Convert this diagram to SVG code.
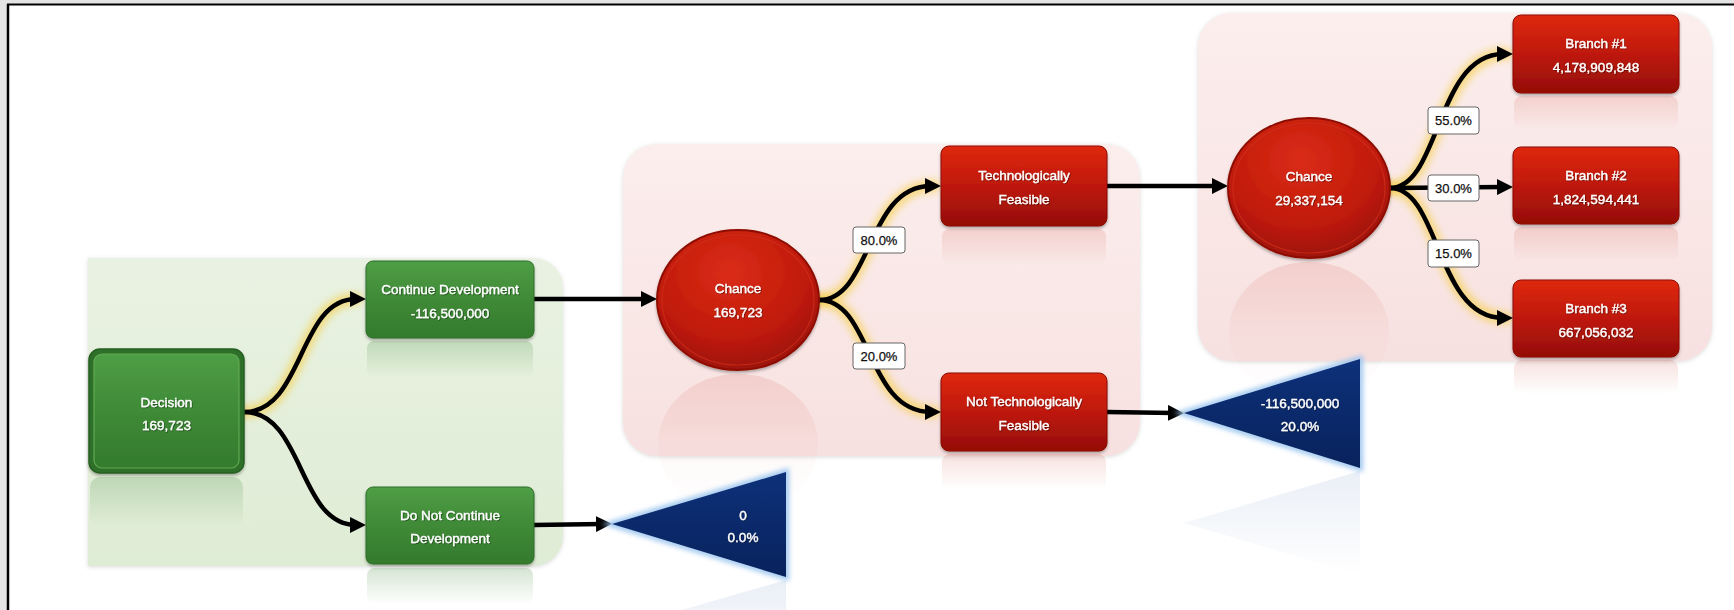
<svg xmlns="http://www.w3.org/2000/svg" width="1734" height="610" viewBox="0 0 1734 610">
<defs>
<style>
.nt{font-family:"Liberation Sans",Arial,sans-serif;font-size:13.5px;fill:#fff;stroke:#fff;stroke-width:0.35px;text-anchor:middle;filter:url(#ts)}
.lt{font-family:"Liberation Sans",Arial,sans-serif;font-size:13px;fill:#111;stroke:#111;stroke-width:0.25px;text-anchor:middle}
.lb{fill:#fff;stroke:#666;stroke-width:1}
.glow{fill:none;stroke:#f5cf45;stroke-width:13;stroke-opacity:0.6;filter:url(#gy);stroke-linecap:round}
.ln{fill:none;stroke:#000;stroke-width:4.5;marker-end:url(#arr)}
.gbox{fill:url(#gGreen);stroke:#2f6d2a;stroke-width:1}
.rbox{fill:url(#gRed);stroke:#8a0c05;stroke-width:1}
.ell{fill:url(#gEll);stroke:#8e0e06;stroke-width:2}
.tri{fill:url(#gNavy)}
.trig{fill:none;stroke:#9cc6ef;stroke-width:6;filter:url(#gb)}
</style>
<linearGradient id="gGreenPanel" x1="0" y1="0" x2="0" y2="1"><stop offset="0" stop-color="#e9f2e2"/><stop offset="1" stop-color="#dfecd5"/></linearGradient>
<linearGradient id="gPinkPanel" x1="0" y1="0" x2="0" y2="1"><stop offset="0" stop-color="#fbeeed"/><stop offset="1" stop-color="#f7e1e0"/></linearGradient>
<linearGradient id="gGreen" x1="0" y1="0" x2="0" y2="1"><stop offset="0" stop-color="#4f9e46"/><stop offset="0.5" stop-color="#3f8a37"/><stop offset="1" stop-color="#347a2d"/></linearGradient>
<linearGradient id="gRed" x1="0" y1="0" x2="0" y2="1"><stop offset="0" stop-color="#de2811"/><stop offset="0.45" stop-color="#c21a0a"/><stop offset="1" stop-color="#940d06"/></linearGradient>
<radialGradient id="gEll" cx="0.45" cy="0.3" r="0.8"><stop offset="0" stop-color="#db2c16"/><stop offset="0.6" stop-color="#bf1a0b"/><stop offset="1" stop-color="#8c0e06"/></radialGradient>
<linearGradient id="gNavy" x1="0" y1="0" x2="0" y2="1"><stop offset="0" stop-color="#0e317a"/><stop offset="1" stop-color="#08225c"/></linearGradient>
<linearGradient id="rG" x1="0" y1="0" x2="0" y2="1"><stop offset="0" stop-color="#3f8a37" stop-opacity="0.22"/><stop offset="1" stop-color="#3f8a37" stop-opacity="0"/></linearGradient>
<linearGradient id="rR" x1="0" y1="0" x2="0" y2="1"><stop offset="0" stop-color="#c8301e" stop-opacity="0.14"/><stop offset="1" stop-color="#c8301e" stop-opacity="0"/></linearGradient>
<linearGradient id="rE" x1="0" y1="0" x2="0" y2="1"><stop offset="0" stop-color="#c8301e" stop-opacity="0.12"/><stop offset="0.5" stop-color="#c8301e" stop-opacity="0.03"/><stop offset="1" stop-color="#c8301e" stop-opacity="0"/></linearGradient>
<linearGradient id="rB" x1="0" y1="0" x2="0" y2="1"><stop offset="0" stop-color="#6a8cc0" stop-opacity="0.14"/><stop offset="1" stop-color="#6a8cc0" stop-opacity="0"/></linearGradient>
<filter id="gy" x="-20%" y="-50%" width="140%" height="200%"><feGaussianBlur stdDeviation="3.5"/></filter>
<filter id="gb" x="-20%" y="-20%" width="140%" height="140%"><feGaussianBlur stdDeviation="2.5"/></filter>
<filter id="ts" x="-10%" y="-30%" width="120%" height="160%"><feDropShadow dx="0.8" dy="0.8" stdDeviation="0.6" flood-color="#000" flood-opacity="0.45"/></filter>
<filter id="ns" x="-10%" y="-10%" width="120%" height="130%"><feDropShadow dx="0" dy="2" stdDeviation="1.5" flood-color="#000" flood-opacity="0.3"/></filter>
<filter id="ps" x="-5%" y="-5%" width="110%" height="110%"><feDropShadow dx="0" dy="1" stdDeviation="2" flood-color="#999" flood-opacity="0.35"/></filter>
<marker id="arr" markerUnits="userSpaceOnUse" markerWidth="16" markerHeight="16" viewBox="0 0 16 16" refX="6" refY="8" orient="auto"><path d="M0,0 L16,8 L0,16 Z" fill="#000"/></marker>
</defs>

<rect x="0" y="0" width="1734" height="610" fill="#fff"/>
<rect x="0" y="0" width="1734" height="4" fill="#e4e4e4"/>
<rect x="0" y="0" width="7" height="610" fill="#e4e4e4"/>
<line x1="7" y1="4.5" x2="1734" y2="4.5" stroke="#000" stroke-width="2"/>
<line x1="8" y1="4" x2="8" y2="610" stroke="#000" stroke-width="2.5"/>

<g id="panels">
<path id="panel-decision" d="M88,258 H533 A30,30 0 0 1 563,288 V536 A30,30 0 0 1 533,566 H88 Z" fill="url(#gGreenPanel)" filter="url(#ps)"/>
<rect id="panel-chance1" x="623" y="144" width="517" height="312" rx="34" fill="url(#gPinkPanel)" filter="url(#ps)"/>
<rect id="panel-chance2" x="1198" y="13" width="514" height="348" rx="34" fill="url(#gPinkPanel)" filter="url(#ps)"/>
</g>

<g id="reflections">
<rect x="90" y="477" width="153" height="50" rx="10" fill="url(#rG)"/>
<rect x="367" y="341" width="166" height="36" rx="7" fill="url(#rG)"/>
<rect x="367" y="568" width="166" height="36" rx="7" fill="url(#rG)"/>
<rect x="942" y="229" width="164" height="36" rx="8" fill="url(#rR)"/>
<rect x="942" y="454" width="164" height="36" rx="8" fill="url(#rR)"/>
<rect x="1514" y="96" width="164" height="34" rx="8" fill="url(#rR)"/>
<rect x="1514" y="227" width="164" height="34" rx="8" fill="url(#rR)"/>
<rect x="1514" y="360" width="164" height="34" rx="8" fill="url(#rR)"/>
<ellipse cx="738" cy="444" rx="80" ry="70" fill="url(#rE)"/>
<ellipse cx="1309" cy="332" rx="80" ry="70" fill="url(#rE)"/>
<polygon points="612,630 786,580 786,682" fill="url(#rB)"/>
<polygon points="1184,523 1360,471 1360,575" fill="url(#rB)"/>
</g>

<g id="connectors">
<path class="glow" d="M244,412 C304,412 298,299 356,299"/>
<path class="glow" d="M534,299 L650,299"/>
<path class="glow" d="M819,300 C872,300 866,186 934,186"/>
<path class="glow" d="M819,300 C872,300 866,412 934,412"/>
<path class="glow" d="M1107,186 L1222,186"/>
<path class="glow" d="M1107,412 L1180,413"/>
<path class="glow" d="M1390,188 C1440,188 1436,54 1506,54"/>
<path class="glow" d="M1390,188 L1506,187"/>
<path class="glow" d="M1390,188 C1440,188 1436,318 1506,318"/>

<path id="c-dec-cont" class="ln" d="M244,412 C304,412 298,299 356,299"/>
<path id="c-dec-stop" class="ln" d="M244,412 C304,412 298,525 356,525"/>
<path id="c-cont-ch1" class="ln" d="M534,299 L647,299"/>
<path id="c-stop-t1" class="ln" d="M534,525 L602,524"/>
<path id="c-ch1-tech" class="ln" d="M819,300 C872,300 866,186 931,186"/>
<path id="c-ch1-not" class="ln" d="M819,300 C872,300 866,412 931,412"/>
<path id="c-tech-ch2" class="ln" d="M1107,186 L1218,186"/>
<path id="c-not-t2" class="ln" d="M1107,412 L1174,413"/>
<path id="c-ch2-b1" class="ln" d="M1390,188 C1440,188 1436,54 1503,54"/>
<path id="c-ch2-b2" class="ln" d="M1390,188 L1503,187"/>
<path id="c-ch2-b3" class="ln" d="M1390,188 C1440,188 1436,318 1503,318"/>

<g id="labels">
<rect class="lb" x="853" y="227" width="52" height="26" rx="3"/><text class="lt" x="879" y="245">80.0%</text>
<rect class="lb" x="853" y="343" width="52" height="26" rx="3"/><text class="lt" x="879" y="361">20.0%</text>
<rect class="lb" x="1428" y="107" width="51" height="27" rx="3"/><text class="lt" x="1453.5" y="125">55.0%</text>
<rect class="lb" x="1428" y="175" width="51" height="26" rx="3"/><text class="lt" x="1453.5" y="193">30.0%</text>
<rect class="lb" x="1428" y="240" width="51" height="27" rx="3"/><text class="lt" x="1453.5" y="258">15.0%</text>
</g>
</g>

<g id="decision" filter="url(#ns)">
<rect x="89" y="349" width="155" height="124" rx="11" fill="#2f6f29" stroke="#275f22" stroke-width="1.5"/>
<rect x="94" y="354" width="145" height="114" rx="8" fill="url(#gGreen)" stroke="#5fab53" stroke-width="1.2"/>
<text class="nt" x="166.5" y="407">Decision</text>
<text class="nt" x="166.5" y="430">169,723</text>
</g>

<g id="continue-development" filter="url(#ns)">
<rect class="gbox" x="366" y="261" width="168" height="77" rx="7"/>
<text class="nt" x="450" y="294">Continue Development</text>
<text class="nt" x="450" y="318">-116,500,000</text>
</g>

<g id="do-not-continue" filter="url(#ns)">
<rect class="gbox" x="366" y="487" width="168" height="77" rx="7"/>
<text class="nt" x="450" y="520">Do Not Continue</text>
<text class="nt" x="450" y="543">Development</text>
</g>

<g id="chance-1" filter="url(#ns)">
<ellipse class="ell" cx="738" cy="300" rx="81" ry="70"/>
<ellipse cx="738" cy="300" rx="76" ry="65" fill="none" stroke="#d1301c" stroke-width="1.2" stroke-opacity="0.7"/>
<text class="nt" x="738" y="293">Chance</text>
<text class="nt" x="738" y="317">169,723</text>
</g>

<g id="tech-feasible" filter="url(#ns)">
<rect class="rbox" x="941" y="146" width="166" height="80" rx="8"/>
<text class="nt" x="1024" y="180">Technologically</text>
<text class="nt" x="1024" y="204">Feasible</text>
</g>

<g id="not-tech-feasible" filter="url(#ns)">
<rect class="rbox" x="941" y="373" width="166" height="78" rx="8"/>
<text class="nt" x="1024" y="406">Not Technologically</text>
<text class="nt" x="1024" y="430">Feasible</text>
</g>

<g id="chance-2" filter="url(#ns)">
<ellipse class="ell" cx="1309" cy="188" rx="81" ry="70"/>
<ellipse cx="1309" cy="188" rx="76" ry="65" fill="none" stroke="#d1301c" stroke-width="1.2" stroke-opacity="0.7"/>
<text class="nt" x="1309" y="181">Chance</text>
<text class="nt" x="1309" y="205">29,337,154</text>
</g>

<g id="branch-1" filter="url(#ns)">
<rect class="rbox" x="1513" y="15" width="166" height="78" rx="8"/>
<text class="nt" x="1596" y="48">Branch #1</text>
<text class="nt" x="1596" y="72">4,178,909,848</text>
</g>

<g id="branch-2" filter="url(#ns)">
<rect class="rbox" x="1513" y="147" width="166" height="77" rx="8"/>
<text class="nt" x="1596" y="180">Branch #2</text>
<text class="nt" x="1596" y="204">1,824,594,441</text>
</g>

<g id="branch-3" filter="url(#ns)">
<rect class="rbox" x="1513" y="280" width="166" height="77" rx="8"/>
<text class="nt" x="1596" y="313">Branch #3</text>
<text class="nt" x="1596" y="337">667,056,032</text>
</g>

<g id="terminal-1">
<polygon class="trig" points="612,524 786,472 786,577"/>
<polygon class="tri" points="612,524 786,472 786,577"/>
<text class="nt" x="743" y="520">0</text>
<text class="nt" x="743" y="542">0.0%</text>
</g>

<g id="terminal-2">
<polygon class="trig" points="1184,413 1360,359 1360,468"/>
<polygon class="tri" points="1184,413 1360,359 1360,468"/>
<text class="nt" x="1300" y="408">-116,500,000</text>
<text class="nt" x="1300" y="431">20.0%</text>
</g>
</svg>
